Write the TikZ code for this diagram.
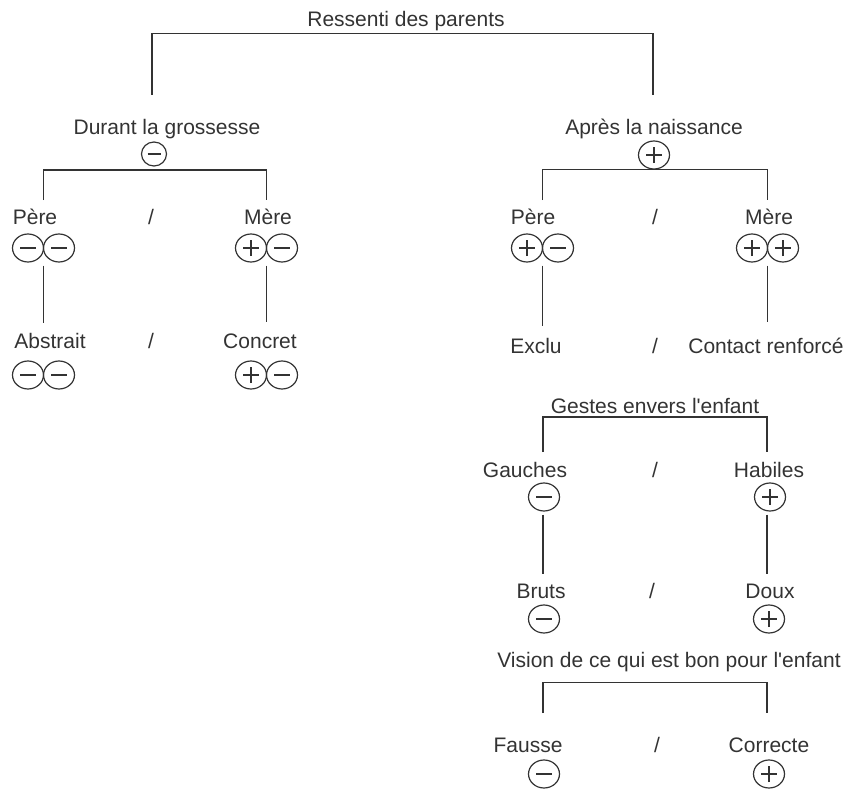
\documentclass[tikz,border=0pt]{standalone}
\usepackage{fontspec}
\setmainfont{Liberation Sans}[Ligatures=TeXOff]
\usetikzlibrary{calc,shapes.geometric}
\definecolor{encre}{HTML}{333333}

\tikzset{
  mot/.style={anchor=base, inner sep=2pt},
  trait/.style={draw=encre, line width=1.3pt},
  signe/.style={ellipse, draw=encre, line width=1.2pt, minimum width=31pt, minimum height=28pt, inner sep=0pt},
  moins/.style={signe, path picture={
    \draw[encre, line width=1.6pt] ([xshift=-#1]path picture bounding box.center) -- ([xshift=#1]path picture bounding box.center);}},
  moins/.default=8pt,
  plus/.style={signe, path picture={
    \draw[encre, line width=1.6pt] ([xshift=-#1]path picture bounding box.center) -- ([xshift=#1]path picture bounding box.center)
      ([yshift=-#1]path picture bounding box.center) -- ([yshift=#1]path picture bounding box.center);}},
  plus/.default=8pt,
}

\begin{document}
\begin{tikzpicture}[x=1pt, y=-1pt, font=\fontsize{21}{25}\selectfont, text=encre]
  \useasboundingbox (0,0) rectangle (851,789);
  % racine
  \node[mot] (racine) at (406,27) {Ressenti des parents};
  \coordinate (gPied) at (152,95);
  \coordinate (nPied) at (653,95);
  \draw[trait] (gPied) |- (racine.south) -| (nPied);

  % durant la grossesse
  \node[mot] (grossesse) at (167,135) {Durant la grossesse};
  \node[moins=6.5pt, minimum width=25pt, minimum height=24pt] (sGrossesse) at (154,154) {};
  \coordinate (p1Pied) at (43.5,200);
  \coordinate (m1Pied) at (266.5,200);
  \draw[trait] (p1Pied) |- ($(sGrossesse.south)+(0,3.4)$) -| (m1Pied);
  \node[mot] (pere1) at (35,224) {Père};
  \node[mot] (barre1) at (151,224) {/};
  \node[mot] (mere1) at (268,224) {Mère};
  \node[moins] (pere1a) at (28,248) {};
  \node[moins] (pere1b) at (59,248) {};
  \node[plus] (mere1a) at (251,248) {};
  \node[moins] (mere1b) at (282,248) {};
  \coordinate (abstraitHaut) at (43.5,323);
  \coordinate (concretHaut) at (266.5,322);
  \draw[trait] ($(pere1a.south)!.5!(pere1b.south)+(0,3)$) -- (abstraitHaut);
  \draw[trait] ($(mere1a.south)!.5!(mere1b.south)+(0,3)$) -- (concretHaut);
  \node[mot] (abstrait) at (50,348) {Abstrait};
  \node[mot] (barre2) at (151,348) {/};
  \node[mot] (concret) at (260,348) {Concret};
  \node[moins] (abstraitA) at (28,375) {};
  \node[moins] (abstraitB) at (59,375) {};
  \node[plus] (concretA) at (251,375) {};
  \node[moins] (concretB) at (282,375) {};

  % apres la naissance
  \node[mot] (naissance) at (654,135) {Après la naissance};
  \node[plus] (sNaissance) at (654,155) {};
  \coordinate (p2Pied) at (542.5,200);
  \coordinate (m2Pied) at (767.5,200);
  \draw[trait] (p2Pied) |- (sNaissance.south) -| (m2Pied);
  \node[mot] (pere2) at (533,224) {Père};
  \node[mot] (barre3) at (655,224) {/};
  \node[mot] (mere2) at (769,224) {Mère};
  \node[plus] (pere2a) at (527,248) {};
  \node[moins] (pere2b) at (558,248) {};
  \node[plus] (mere2a) at (752,248) {};
  \node[plus] (mere2b) at (783,248) {};
  \coordinate (excluHaut) at (542.5,326);
  \coordinate (contactHaut) at (767.5,322);
  \draw[trait] ($(pere2a.south)!.5!(pere2b.south)+(0,3)$) -- (excluHaut);
  \draw[trait] ($(mere2a.south)!.5!(mere2b.south)+(0,3)$) -- (contactHaut);
  \node[mot] (exclu) at (536,353) {Exclu};
  \node[mot] (barre4) at (655,353) {/};
  \node[mot] (contact) at (766,353) {Contact renforcé};

  % gestes
  \node[mot] (gestes) at (655,413) {Gestes envers l'enfant};
  \coordinate (gaPied) at (543,452);
  \coordinate (haPied) at (767,452);
  \draw[trait] (gaPied) |- ($(gestes.south)+(0,1.5)$) -| (haPied);
  \node[mot] (gauches) at (525,477) {Gauches};
  \node[mot] (barre5) at (655,477) {/};
  \node[mot] (habiles) at (769,477) {Habiles};
  \node[moins] (sGauches) at (544,497) {};
  \node[plus] (sHabiles) at (770,497) {};
  \coordinate (brutsHaut) at (543,574);
  \coordinate (douxHaut) at (767,574);
  \draw[trait] ($(gaPied |- sGauches.south)+(0,3)$) -- (brutsHaut);
  \draw[trait] ($(haPied |- sHabiles.south)+(0,3)$) -- (douxHaut);
  \node[mot] (bruts) at (541,598) {Bruts};
  \node[mot] (barre6) at (652,598) {/};
  \node[mot] (doux) at (770,598) {Doux};
  \node[moins] (sBruts) at (544,619) {};
  \node[plus] (sDoux) at (769,619) {};

  % vision
  \node[mot] (vision) at (669,667) {Vision de ce qui est bon pour l'enfant};
  \coordinate (faPied) at (543,713);
  \coordinate (coPied) at (767,713);
  \draw[trait] (faPied) |- ($(vision.south)+(0,8.6)$) -| (coPied);
  \node[mot] (fausse) at (528,752) {Fausse};
  \node[mot] (barre7) at (657,752) {/};
  \node[mot] (correcte) at (769,752) {Correcte};
  \node[moins] (sFausse) at (544,774) {};
  \node[plus] (sCorrecte) at (769,774) {};
\end{tikzpicture}
\end{document}
